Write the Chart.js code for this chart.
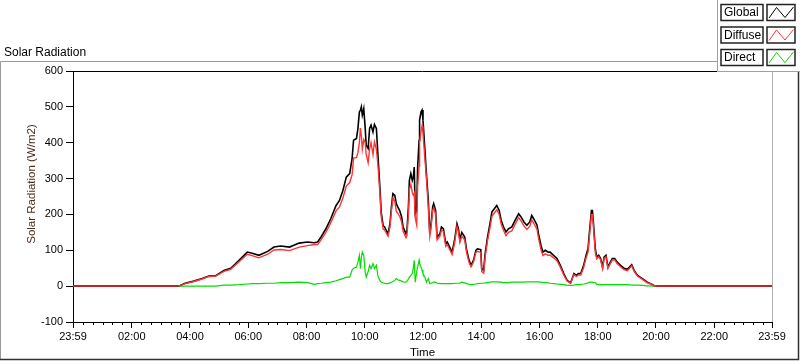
<!DOCTYPE html>
<html>
<head>
<meta charset="utf-8">
<script src="https://cdn.jsdelivr.net/npm/chart.js@4"></script>
<style>
  html, body { margin: 0; padding: 0; background: #fff; }
  #wrap { width: 800px; height: 361px; }
</style>
</head>
<body>
<div id="wrap"><canvas id="myChart" width="800" height="361"></canvas></div>
<script>
// sample times in minutes after midnight (-1 and 1439 are the 23:59 ends)
const times = [
  -1, 213, 220, 230, 248, 265, 279, 293, 310, 324,
  341, 358, 368, 382, 400, 413, 427, 445, 465, 482,
  496, 503, 510, 520, 530, 541, 548, 555, 562, 569,
  574, 577, 583, 586, 589, 591, 593, 595, 598, 601,
  603, 607, 610, 613, 617, 620, 624, 627, 631, 634,
  638, 641, 644, 648, 652, 655, 658, 662, 665, 668,
  672, 676, 679, 685, 687, 690, 692, 695, 698, 700,
  702, 704, 707, 709, 712, 713, 716, 718, 720, 724,
  727, 731, 734, 736, 740, 742, 746, 749, 755, 758,
  762, 767, 770, 775, 780, 785, 790, 793, 796, 800,
  806, 810, 815, 819, 824, 829, 832, 839, 841, 845,
  848, 853, 858, 862, 867, 872, 877, 881, 886, 891,
  896, 903, 910, 917, 922, 928, 934, 940, 944, 948,
  955, 958, 963, 967, 972, 978, 982, 989, 996, 1003,
  1010, 1017, 1024, 1031, 1036, 1040, 1045, 1051, 1056, 1060,
  1063, 1067, 1069, 1071, 1075, 1078, 1082, 1086, 1090, 1093,
  1097, 1101, 1106, 1110, 1115, 1120, 1127, 1134, 1141, 1150,
  1155, 1162, 1172, 1182, 1189, 1196, 1206, 1439
];

// W/m2
const globalVals = [
  0, 0, 2, 8, 14, 21, 28, 29, 44, 50,
  72, 95, 92, 86, 97, 109, 112, 109, 120, 123,
  121, 123, 137, 160, 188, 225, 239, 267, 304, 314,
  356, 407, 412, 440, 486, 490, 500, 477, 495, 440,
  393, 384, 440, 449, 430, 451, 440, 370, 280, 205,
  168, 165, 156, 146, 174, 221, 258, 253, 230, 221,
  211, 193, 165, 146, 156, 221, 295, 314, 295, 304,
  332, 202, 211, 332, 407, 463, 486, 491, 463, 379,
  314, 239, 146, 165, 221, 230, 211, 137, 146, 165,
  160, 118, 123, 109, 95, 128, 174, 160, 130, 150,
  137, 100, 72, 58, 72, 100, 104, 102, 49, 44,
  90, 137, 174, 207, 216, 225, 211, 184, 165, 151,
  160, 165, 184, 202, 193, 179, 170, 179, 197, 188,
  170, 146, 114, 95, 100, 95, 95, 86, 77, 58,
  35, 16, 9, 35, 30, 35, 35, 58, 86, 104,
  151, 211, 211, 179, 104, 81, 86, 77, 53, 81,
  86, 53, 67, 77, 77, 67, 58, 50, 47, 60,
  44, 30, 21, 11, 7, 2, 0, 0
];

const diffuseVals = [
  0, 0, 2, 7, 13, 20, 27, 28, 41, 47,
  68, 89, 85, 79, 89, 101, 102, 99, 109, 113,
  116, 116, 129, 150, 177, 210, 221, 246, 279, 289,
  311, 357, 359, 373, 400, 441, 420, 382, 409, 401,
  368, 344, 382, 400, 367, 402, 382, 340, 264, 194,
  159, 157, 149, 139, 165, 210, 245, 237, 209, 203,
  195, 179, 153, 135, 142, 201, 270, 284, 260, 254,
  260, 191, 171, 279, 335, 400, 433, 446, 428, 354,
  303, 218, 139, 157, 211, 219, 200, 129, 139, 157,
  153, 111, 116, 102, 88, 120, 166, 152, 122, 139,
  129, 93, 66, 54, 67, 94, 97, 94, 41, 36,
  81, 127, 163, 195, 204, 213, 200, 173, 155, 141,
  150, 154, 173, 191, 182, 168, 158, 167, 185, 176,
  158, 134, 103, 85, 90, 86, 86, 79, 71, 53,
  31, 14, 8, 32, 27, 31, 31, 52, 79, 95,
  140, 200, 200, 169, 94, 76, 82, 73, 49, 77,
  82, 49, 63, 73, 73, 63, 54, 46, 43, 57,
  41, 28, 19, 9, 6, 1, 0, 0
];

const directVals = [
  0, 0, 0, 0, 0, 0, 0, 0, 3, 3,
  4, 6, 7, 7, 8, 8, 10, 10, 11, 10,
  5, 7, 8, 10, 11, 15, 18, 21, 25, 25,
  45, 50, 53, 67, 86, 49, 80, 95, 86, 39,
  25, 40, 58, 49, 63, 49, 58, 30, 16, 11,
  9, 8, 7, 7, 9, 11, 13, 16, 21, 18,
  16, 14, 12, 11, 14, 20, 25, 30, 35, 50,
  72, 11, 40, 53, 72, 63, 53, 45, 35, 25,
  11, 21, 7, 8, 10, 11, 11, 8, 7, 7,
  7, 7, 7, 7, 7, 8, 8, 8, 8, 11,
  9, 7, 5, 4, 5, 6, 7, 8, 8, 8,
  9, 10, 11, 12, 12, 12, 11, 11, 10, 10,
  10, 11, 11, 11, 11, 11, 12, 12, 12, 12,
  12, 12, 11, 10, 10, 9, 8, 7, 6, 5,
  4, 2, 2, 3, 4, 4, 5, 6, 7, 9,
  11, 11, 11, 10, 10, 5, 4, 4, 4, 4,
  4, 4, 4, 4, 4, 4, 4, 4, 4, 3,
  3, 3, 2, 1, 1, 0, 0, 0
];

const xTickValues = [-1, 120, 240, 360, 480, 600, 720, 840, 960, 1080, 1200, 1320, 1439];
const xTickLabels = ["23:59", "02:00", "04:00", "06:00", "08:00", "10:00", "12:00",
  "14:00", "16:00", "18:00", "20:00", "22:00", "23:59"];

const legendNames = ["Global", "Diffuse", "Direct"];
const legendColors = ["#000000", "#ff3333", "#00dd00"];

const FONT = "'Liberation Sans', Arial, sans-serif";
Chart.defaults.font.family = FONT;
Chart.defaults.font.size = 11;
Chart.defaults.color = "#000";

const toPoints = (vals) => times.map((t, i) => ({ x: t, y: vals[i] }));

// LabVIEW style frame, caption, y title, minor ticks and the plot legend
const labviewFrame = {
  id: "labviewFrame",
  beforeDraw(chart) {
    const c = chart.ctx;
    c.save();
    c.fillStyle = "#fff";
    c.fillRect(0, 0, chart.width, chart.height);
    c.restore();
  },
  afterDraw(chart) {
    const c = chart.ctx;
    const a = chart.chartArea;
    const xs = chart.scales.x;
    c.save();

    // minor x ticks every 20 minutes
    c.strokeStyle = "#000";
    c.lineWidth = 1;
    c.beginPath();
    for (let m = 20; m < 1439; m += 20) {
      if (m % 120 === 0) continue;
      const px = Math.round(xs.getPixelForValue(m)) + 0.5;
      c.moveTo(px, a.bottom);
      c.lineTo(px, a.bottom + 3);
    }
    c.stroke();

    // plot top (black) and right (grey) borders
    c.beginPath();
    c.moveTo(a.left, a.top + 0.5);
    c.lineTo(a.right, a.top + 0.5);
    c.stroke();
    c.strokeStyle = "#b0b0b0";
    c.beginPath();
    c.moveTo(a.right + 0.5, a.top);
    c.lineTo(a.right + 0.5, a.bottom);
    c.stroke();

    // outer frame
    c.strokeStyle = "#9a9a9a";
    c.beginPath();
    c.moveTo(0.5, 360);
    c.lineTo(0.5, 61.5);
    c.lineTo(717, 61.5);
    c.stroke();
    c.strokeStyle = "#303030";
    c.lineWidth = 1.5;
    c.beginPath();
    c.moveTo(0, 359.5);
    c.lineTo(798.5, 359.5);
    c.lineTo(798.5, 72);
    c.stroke();

    // caption
    c.fillStyle = "#000";
    c.font = "12px " + FONT;
    c.textAlign = "left";
    c.textBaseline = "alphabetic";
    c.fillText("Solar Radiation", 4, 56);

    // y axis title
    c.save();
    c.translate(32, 184);
    c.rotate(-Math.PI / 2);
    c.fillStyle = "#4a2e1a";
    c.font = "11.5px " + FONT;
    c.textAlign = "center";
    c.textBaseline = "middle";
    c.fillText("Solar Radiation (W/m2)", 0, 0);
    c.restore();

    // legend panel
    c.fillStyle = "#fff";
    c.fillRect(717, 0, 83, 72);
    c.strokeStyle = "#a0a0a0";
    c.lineWidth = 1;
    c.beginPath();
    c.moveTo(717.5, 0);
    c.lineTo(717.5, 71.5);
    c.lineTo(800, 71.5);
    c.stroke();

    legendNames.forEach((name, i) => {
      const top = 4.5 + i * 22.5;
      c.strokeStyle = "#222";
      c.lineWidth = 1.5;
      c.strokeRect(721, top, 42, 16);
      c.strokeRect(767, top, 28, 16);
      c.fillStyle = "#000";
      c.font = "12px " + FONT;
      c.textAlign = "left";
      c.textBaseline = "middle";
      c.fillText(name, 724, top + 8.5);
      c.strokeStyle = legendColors[i];
      c.lineWidth = 1;
      c.beginPath();
      c.moveTo(769, top + 13.5);
      c.lineTo(776.5, top + 3);
      c.lineTo(785, top + 13);
      c.lineTo(793.5, top + 2.5);
      c.stroke();
    });

    c.restore();
  },
};

const myChart = new Chart(document.getElementById("myChart"), {
  type: "line",
  data: {
    datasets: [
      { label: "Diffuse", data: toPoints(diffuseVals), borderColor: "#ff3333", borderWidth: 1.4, order: 0 },
      { label: "Global", data: toPoints(globalVals), borderColor: "#000000", borderWidth: 1.6, order: 1 },
      { label: "Direct", data: toPoints(directVals), borderColor: "#00dd00", borderWidth: 1.2, order: 2 },
    ],
  },
  options: {
    responsive: false,
    animation: false,
    devicePixelRatio: 1,
    elements: { point: { radius: 0 }, line: { tension: 0 } },
    layout: { padding: { left: 0, right: 28, top: 71, bottom: 0 } },
    plugins: { legend: { display: false }, tooltip: { enabled: false } },
    scales: {
      x: {
        type: "linear",
        min: -1,
        max: 1439,
        afterBuildTicks: (scale) => {
          scale.ticks = xTickValues.map((v) => ({ value: v }));
        },
        afterFit: (scale) => {
          scale.height = 39;
        },
        ticks: {
          autoSkip: false,
          maxRotation: 0,
          padding: 2,
          color: "#000",
          callback: (v) => xTickLabels[xTickValues.indexOf(v)],
        },
        grid: { drawOnChartArea: false, tickLength: 6, color: "#000" },
        border: { color: "#000" },
        title: { display: true, text: "Time", color: "#000", font: { size: 11.5 }, padding: { top: 0, bottom: 1 } },
      },
      y: {
        min: -100,
        max: 600,
        afterFit: (scale) => {
          scale.width = 73;
        },
        ticks: { stepSize: 100, padding: 3, color: "#000" },
        grid: { drawOnChartArea: false, tickLength: 7, color: "#000" },
        border: { color: "#000" },
      },
    },
  },
  plugins: [labviewFrame],
});
</script>
</body>
</html>
